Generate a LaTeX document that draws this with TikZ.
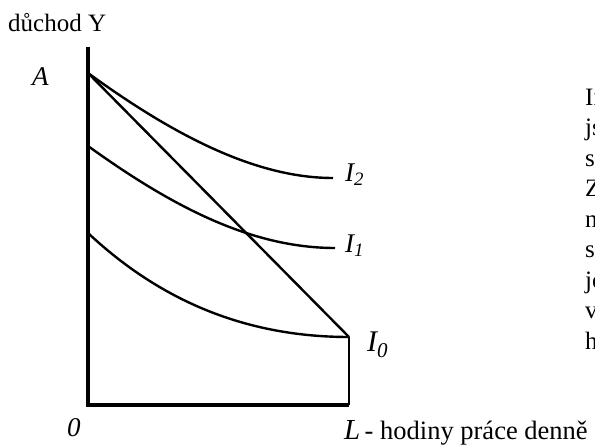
\documentclass[tikz,border=0pt]{standalone}
\usepackage{fontspec}
\setmainfont{Liberation Serif}
\usetikzlibrary{positioning}

\begin{document}
\begin{tikzpicture}[
    x=1pt, y=-1pt,
    axis/.style={line width=3.4pt},
    curve/.style={line width=2.4pt},
    lbl/.style={inner sep=0pt, anchor=base west, font=\fontsize{27}{30}\selectfont\itshape},
    txt/.style={inner sep=0pt, anchor=base west, font=\fontsize{25}{30}\selectfont}
]
\useasboundingbox (0,0) rectangle (595,446);
% axes and points
\coordinate (top) at (88,47);
\coordinate (o) at (88,405);
\coordinate (a) at (88,73);
\coordinate (b) at (349,337);
\coordinate (lend) at (349,405);
\coordinate (s1) at (88,146);
\coordinate (s0) at (88,233);
\coordinate (e2) at (333,178);
\coordinate (e1) at (335,248);
\draw[axis] (top) -- (o) -- (lend);
\draw[curve] (lend) -- (b);
\draw[curve] (a) -- (b);
% indifference curves
\draw[curve] (a) .. controls (180,140) and (260,178) .. (e2);
\draw[curve] (s1) .. controls (170,205) and (250,248) .. (e1);
\draw[curve] (s0) .. controls (170,310) and (260,337) .. (b);
% labels
\node[txt] (ylab) at (8,32) {důchod Y};
\node[lbl] (alab) at (32,86) {A};
\node[lbl] (olab) at (67,437) {0};
\node[lbl] (i2) at (345,182) {I\textsubscript{2}};
\node[lbl] (i1) at (345,253) {I\textsubscript{1}};
\node[lbl, font=\fontsize{30}{32}\selectfont\itshape] (i0) at (367,352) {I\textsubscript{0}};
\node[lbl, font=\fontsize{29}{32}\selectfont\itshape] (llab) at (344,440) {L};
\node[txt, font=\fontsize{26.5}{30}\selectfont, right=4pt of llab.base east, anchor=base west] (xlab) {- hodiny práce denně};
% cut-off side text
\foreach \t [count=\i] in {In,js,s,Z,n,s,jo,v,h}
  \node[txt] (side\i) at (585,75+30.5*\i) {\t};
\end{tikzpicture}
\end{document}
